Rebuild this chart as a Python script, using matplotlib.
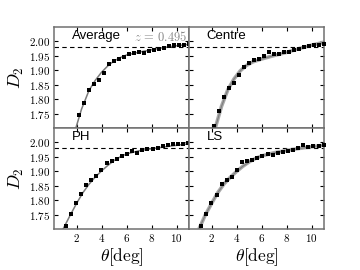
import matplotlib
matplotlib.use("Agg")
import matplotlib.pyplot as plt
from matplotlib.ticker import FuncFormatter

plt.rcParams['mathtext.fontset'] = 'cm'

# ---- data ----
# Average
avg_theta = [2.2, 2.6, 3.0, 3.4, 3.8, 4.2, 4.6, 5.0, 5.4, 5.8, 6.2, 6.6, 7.0, 7.4,
             7.8, 8.2, 8.6, 9.0, 9.4, 9.8, 10.2, 10.6, 11.0]
avg_D = [1.746, 1.785, 1.830, 1.851, 1.866, 1.892, 1.922, 1.931, 1.938, 1.947, 1.955,
         1.960, 1.964, 1.960, 1.967, 1.970, 1.974, 1.977, 1.984, 1.986, 1.988, 1.989, 1.992]
avg_fit_theta = [1.95, 2.4, 3.0, 3.5, 4.0, 4.5, 5.0, 5.5, 6.0, 7.0, 8.0, 9.0, 10.0, 11.0]
avg_fit_D = [1.70, 1.765, 1.83, 1.865, 1.893, 1.915, 1.932, 1.944, 1.953, 1.963, 1.971,
             1.979, 1.985, 1.990]

# Centre
cen_theta = [2.2, 2.6, 3.0, 3.4, 3.8, 4.2, 4.6, 5.0, 5.4, 5.8, 6.2, 6.6, 7.0, 7.4,
             7.8, 8.2, 8.6, 9.0, 9.4, 9.8, 10.2, 10.6, 11.0]
cen_D = [1.706, 1.760, 1.809, 1.837, 1.855, 1.882, 1.913, 1.926, 1.934, 1.940, 1.948,
         1.963, 1.956, 1.958, 1.962, 1.965, 1.970, 1.974, 1.980, 1.984, 1.986, 1.989, 1.992]
cen_fit_theta = [2.3, 2.8, 3.3, 3.8, 4.3, 4.8, 5.3, 6.0, 7.0, 8.0, 9.0, 10.0, 11.0]
cen_fit_D = [1.70, 1.775, 1.832, 1.870, 1.898, 1.917, 1.929, 1.939, 1.951, 1.962, 1.975,
             1.987, 1.997]

# PH
ph_theta = [1.14, 1.55, 1.96, 2.36, 2.77, 3.18, 3.59, 3.99, 4.40, 4.81, 5.22, 5.63,
            6.04, 6.44, 6.85, 7.26, 7.67, 8.08, 8.48, 8.89, 9.30, 9.71, 10.12, 10.52, 10.93]
ph_D = [1.710, 1.753, 1.790, 1.820, 1.853, 1.871, 1.885, 1.905, 1.930, 1.937, 1.944,
        1.953, 1.960, 1.971, 1.963, 1.972, 1.976, 1.978, 1.980, 1.986, 1.991, 1.993,
        1.994, 1.996, 1.998]
ph_fit_theta = [0.93, 1.5, 2.0, 2.5, 3.0, 3.5, 4.0, 4.5, 5.0, 5.5, 6.0, 7.0, 8.0, 9.0, 10.0, 11.0]
ph_fit_D = [1.70, 1.748, 1.788, 1.825, 1.855, 1.880, 1.901, 1.920, 1.937, 1.950, 1.960,
            1.971, 1.978, 1.984, 1.990, 1.995]

# LS
ls_theta = [1.18, 1.59, 1.99, 2.40, 2.81, 3.22, 3.63, 4.03, 4.44, 4.85, 5.26, 5.67,
            6.07, 6.48, 6.89, 7.30, 7.71, 8.11, 8.52, 8.93, 9.34, 9.75, 10.15, 10.56, 10.97]
ls_D = [1.710, 1.753, 1.790, 1.816, 1.856, 1.870, 1.880, 1.903, 1.931, 1.934, 1.938,
        1.945, 1.953, 1.960, 1.956, 1.963, 1.967, 1.970, 1.974, 1.980, 1.991, 1.985,
        1.987, 1.989, 1.990]
ls_fit_theta = [1.0, 1.5, 2.0, 2.5, 3.0, 3.5, 4.0, 4.5, 5.0, 5.5, 6.0, 7.0, 8.0, 9.0, 10.0, 11.0]
ls_fit_D = [1.70, 1.748, 1.788, 1.826, 1.856, 1.879, 1.899, 1.917, 1.932, 1.944, 1.953,
            1.964, 1.972, 1.979, 1.985, 1.990]

panels = [
    ("Average", avg_theta, avg_D, avg_fit_theta, avg_fit_D, False),
    ("Centre", cen_theta, cen_D, cen_fit_theta, cen_fit_D, True),
    ("PH", ph_theta, ph_D, ph_fit_theta, ph_fit_D, False),
    ("LS", ls_theta, ls_D, ls_fit_theta, ls_fit_D, True),
]
D_ref = 1.98
xticks = [2, 4, 6, 8, 10]
yticks = [1.75, 1.80, 1.85, 1.90, 1.95, 2.00]

fig, axes = plt.subplots(2, 2, figsize=(3.6, 2.7), dpi=100, sharex=True, sharey=True)
fig.subplots_adjust(left=0.15, right=0.9, top=0.9, bottom=0.152, wspace=0, hspace=0)

for ax, (name, th, D, fth, fD, band) in zip(axes.flat, panels):
    if band:
        ax.plot(fth, fD, color='#a8a8a8', lw=2.6, solid_capstyle='butt', zorder=2)
        ax.plot(fth, fD, color='#808080', lw=0.8, zorder=2)
    else:
        ax.plot(fth, fD, color='#7a7a7a', lw=1.1, zorder=2)
    ax.plot(th, D, 's', color='black', ms=2.3, mew=0, zorder=3, clip_on=False)
    ax.axhline(D_ref, color='black', lw=0.8, ls=(0, (4, 3)), zorder=1)
    ax.text(0.13, 0.975, name, transform=ax.transAxes, ha='left', va='top',
            fontsize=9.5, family='Liberation Sans')
    ax.set_xlim(0.2, 11)
    ax.set_ylim(1.70, 2.05)
    ax.set_xticks(xticks)
    ax.set_yticks(yticks)
    ax.tick_params(direction='in', length=3, width=0.8, top=True, right=True,
                   labelsize=8, pad=2.5)
    for s in ax.spines.values():
        s.set_color('#707070')
        s.set_linewidth(1.1)

fmt_y = FuncFormatter(lambda v, p: r'$%.2f$' % v)
fmt_x = FuncFormatter(lambda v, p: r'$%d$' % v)
for ax in axes.flat:
    ax.yaxis.set_major_formatter(fmt_y)
    ax.xaxis.set_major_formatter(fmt_x)

for ax in axes[:, 0]:
    ax.set_ylabel(r'$D_2$', fontsize=13, labelpad=2)
for ax in axes[1, :]:
    ax.set_xlabel(r'$\theta[\mathrm{deg}]$', fontsize=12.5, labelpad=1)

axes[0, 0].text(0.99, 0.975, r'$z\,=\,0.495$', transform=axes[0, 0].transAxes,
                ha='right', va='top', fontsize=9, color='#888888')

fig.savefig('out.png', dpi=100)
